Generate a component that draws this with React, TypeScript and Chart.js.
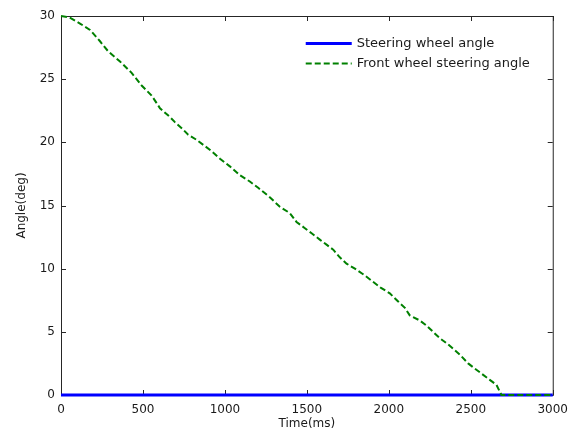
import { useEffect, useRef } from "react";
import { Chart, registerables } from "chart.js";

Chart.register(...registerables);

// Front wheel steering angle over time (ms, deg)
const frontTime = [
  0, 50, 116, 177, 238, 288, 360, 431, 492, 553, 604, 665, 695, 746, 776, 827,
  868, 919, 970, 1030, 1091, 1152, 1203, 1270, 1335, 1396, 1437, 1488, 1529,
  1579, 1620, 1661, 1701, 1742, 1793, 1850, 1900, 1950, 2006, 2057, 2098, 2128,
  2189, 2230, 2270, 2311, 2362, 2433, 2484, 2524, 2565, 2616, 2657, 2677, 2687,
  3000,
];
const frontAngle = [
  30, 29.9, 29.4, 28.9, 28.0, 27.2, 26.4, 25.5, 24.5, 23.7, 22.7, 22.0, 21.6,
  21.0, 20.6, 20.2, 19.8, 19.3, 18.7, 18.1, 17.4, 16.9, 16.4, 15.7, 14.9, 14.4,
  13.7, 13.2, 12.8, 12.3, 11.9, 11.5, 10.9, 10.4, 10.0, 9.5, 9.0, 8.5, 8.05,
  7.4, 6.9, 6.3, 5.9, 5.5, 5.0, 4.5, 4.0, 3.2, 2.5, 2.1, 1.7, 1.2, 0.8, 0.26,
  0, 0,
];

// Steering wheel angle over time (ms, deg)
const steeringTime = [0, 3000];
const steeringAngle = [0, 0];

const timeTicks = [0, 500, 1000, 1500, 2000, 2500, 3000];
const angleTicks = [0, 5, 10, 15, 20, 25, 30];

const seriesNames = ["Steering wheel angle", "Front wheel steering angle"];
const xTitle = "Time(ms)";
const yTitle = "Angle(deg)";

const FONT = "'DejaVu Sans', 'Liberation Sans', sans-serif";
const TEXT = "#1a1a1a";
const AXIS = "#262626";

// Box around the plot area with inward tick marks on all four sides
const framePlugin = {
  id: "frame",
  beforeDatasetsDraw(chart: any) {
    const { ctx, chartArea: a, scales } = chart;
    ctx.save();
    ctx.strokeStyle = AXIS;
    ctx.lineWidth = 1;
    ctx.strokeRect(a.left + 0.5, a.top + 0.5, a.right - a.left, a.bottom - a.top);
    const len = 5;
    ctx.beginPath();
    for (const v of timeTicks) {
      const x = Math.round(scales.x.getPixelForValue(v)) + 0.5;
      ctx.moveTo(x, a.bottom);
      ctx.lineTo(x, a.bottom - len);
      ctx.moveTo(x, a.top);
      ctx.lineTo(x, a.top + len);
    }
    for (const v of angleTicks) {
      const y = Math.round(scales.y.getPixelForValue(v)) + 0.5;
      ctx.moveTo(a.left, y);
      ctx.lineTo(a.left + len, y);
      ctx.moveTo(a.right, y);
      ctx.lineTo(a.right - len, y);
    }
    ctx.stroke();
    ctx.restore();
  },
};

// Legend drawn inside the upper-right corner of the plot area
const insideLegendPlugin = {
  id: "insideLegend",
  afterDatasetsDraw(chart: any) {
    const { ctx, chartArea: a } = chart;
    const x0 = a.right - 247;
    const sampleLen = 46;
    ctx.save();
    ctx.font = `13px ${FONT}`;
    ctx.textBaseline = "middle";
    ctx.textAlign = "left";
    seriesNames.forEach((name, i) => {
      const ds = chart.data.datasets.find((d: any) => d.label === name);
      const y = a.top + 27 + i * 20;
      ctx.strokeStyle = ds.borderColor;
      ctx.lineWidth = ds.borderWidth;
      ctx.setLineDash(ds.borderDash || []);
      ctx.beginPath();
      ctx.moveTo(x0, y + 0.5);
      ctx.lineTo(x0 + sampleLen, y + 0.5);
      ctx.stroke();
      ctx.setLineDash([]);
      ctx.fillStyle = TEXT;
      ctx.fillText(name, x0 + sampleLen + 5, y + 1);
    });
    ctx.restore();
  },
};

export default function App() {
  const canvasRef = useRef<HTMLCanvasElement | null>(null);

  useEffect(() => {
    const canvas = canvasRef.current;
    if (!canvas) return;
    const chart = new Chart(canvas, {
      type: "line",
      data: {
        datasets: [
          {
            label: seriesNames[0],
            data: steeringTime.map((t, i) => ({ x: t, y: steeringAngle[i] })),
            borderColor: "#0000ff",
            borderWidth: 3,
            pointRadius: 0,
            tension: 0,
            clip: false as any,
            order: 1,
          },
          {
            label: seriesNames[1],
            data: frontTime.map((t, i) => ({ x: t, y: frontAngle[i] })),
            borderColor: "#008000",
            borderWidth: 2,
            borderDash: [6, 3],
            pointRadius: 0,
            tension: 0,
            clip: false as any,
            order: 0,
          },
        ],
      },
      options: {
        responsive: false,
        animation: false,
        devicePixelRatio: 1,
        layout: { padding: { left: 0, right: 23, top: 16, bottom: 0 } },
        plugins: {
          legend: { display: false },
          tooltip: { enabled: false },
        },
        scales: {
          x: {
            type: "linear",
            min: 0,
            max: 3000,
            grid: { display: false, drawTicks: false },
            border: { display: false },
            afterBuildTicks: (scale: any) => {
              scale.ticks = timeTicks.map((v) => ({ value: v }));
            },
            afterFit: (scale: any) => {
              scale.height = 44;
            },
            ticks: {
              font: { family: FONT, size: 12 },
              color: TEXT,
              padding: 8,
              maxRotation: 0,
              autoSkip: false,
              callback: (v: any) => String(v),
            },
            title: {
              display: true,
              text: xTitle,
              font: { family: FONT, size: 12 },
              color: TEXT,
              padding: { top: 0, bottom: 8 },
            },
          },
          y: {
            type: "linear",
            min: 0,
            max: 30,
            grid: { display: false, drawTicks: false },
            border: { display: false },
            afterBuildTicks: (scale: any) => {
              scale.ticks = angleTicks.map((v) => ({ value: v }));
            },
            afterFit: (scale: any) => {
              scale.width = 61;
            },
            ticks: {
              font: { family: FONT, size: 12 },
              color: TEXT,
              padding: 6,
              autoSkip: false,
              callback: (v: any) => String(v),
            },
            title: {
              display: true,
              text: yTitle,
              font: { family: FONT, size: 12 },
              color: TEXT,
              padding: { top: 15, bottom: 0 },
            },
          },
        },
      },
      plugins: [framePlugin, insideLegendPlugin],
    });
    return () => chart.destroy();
  }, []);

  return (
    <div style={{ position: "absolute", left: 0, top: 0, width: 576, height: 439, background: "#ffffff" }}>
      <canvas ref={canvasRef} width={576} height={439} style={{ display: "block" }} />
    </div>
  );
}
